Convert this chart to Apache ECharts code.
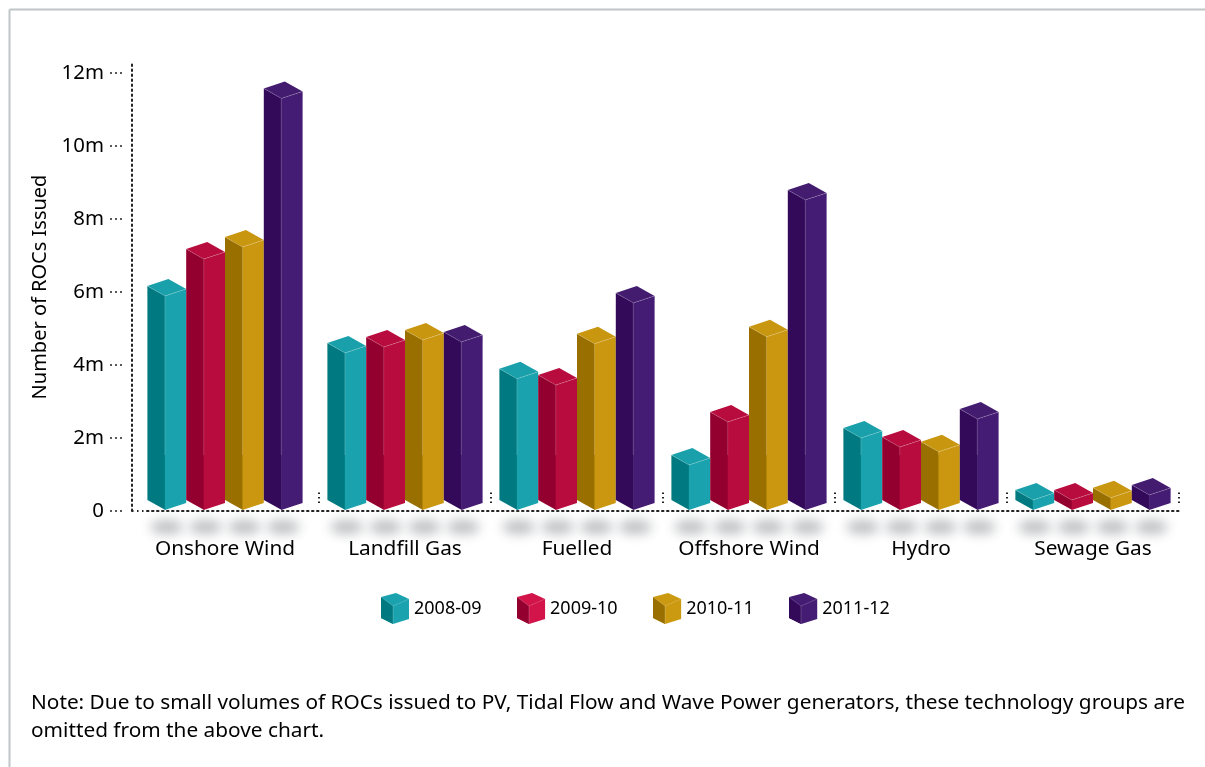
<!DOCTYPE html>
<html>
<head>
<meta charset="utf-8">
<title>ROCs issued by technology</title>
<style>html,body{margin:0;padding:0;background:#fff;overflow:hidden}#chart{width:1205px;height:767px}</style>
<script src="https://cdn.jsdelivr.net/npm/echarts@6/dist/echarts.min.js"></script>
</head>
<body>
<div id="chart"></div>
<script>
// ROCs issued per technology and year, in millions
const categories = ['Onshore Wind', 'Landfill Gas', 'Fuelled', 'Offshore Wind', 'Hydro', 'Sewage Gas'];
const years = ['2008-09', '2009-10', '2010-11', '2011-12'];
const values2008 = [5.89, 4.33, 3.62, 1.26, 2.0, 0.3];
const values2009 = [6.9, 4.49, 3.45, 2.44, 1.75, 0.3];
const values2010 = [7.23, 4.68, 4.58, 4.77, 1.62, 0.36];
const values2011 = [11.3, 4.63, 5.7, 8.52, 2.52, 0.44];
const yTicks = [0, 2, 4, 6, 8, 10, 12];
const noteText = 'Note: Due to small volumes of ROCs issued to PV, Tidal Flow and Wave Power generators, these technology groups are\nomitted from the above chart.';

const seriesValues = [values2008, values2009, values2010, values2011];

// Face colours of each 3D column: side in shadow, lit side, lid, legend cube
const faces = [
  { left: '#007a80', right: '#1aa3ae', top: '#1aa0aa', cube: '#1aa3af' },
  { left: '#93002f', right: '#b80c3e', top: '#b80c3e', cube: '#d2144a' },
  { left: '#997000', right: '#cb9710', top: '#c99610', cube: '#cc9a10' },
  { left: '#330a5a', right: '#451c74', top: '#431c70', cube: '#451c74' }
];

const FONT = '"Noto Sans", "Open Sans", sans-serif';
const INK = '#000';
const DOTS = '#222';
const DOT_DASH = [1.5, 3.5];
const EDGE = 'rgba(255,255,255,0.18)';

// Column proportions
const BAR_W = 38.8, FRONT_X = 17.5, BACK_X = 21, LEFT_RISE = 10, RIGHT_RISE = 7, BACK_RISE = 17;
// The first category sits in a wider band than the others
const bandShift = [-8, 0, 0, 0, 0, 0];
// The soft floor shadow is painted from a copy parked off to the side, so only its blur shows
const SHADOW_PARK = 3000;

function renderColumn(seriesIndex) {
  return function (params, api) {
    const cat = api.value(0);
    const top = api.coord([cat, api.value(1)]);
    const zero = api.coord([cat, 0]);
    const xL = top[0] + bandShift[cat] + (seriesIndex - 2) * BAR_W;
    const xF = xL + FRONT_X, xR = xL + BAR_W, xB = xL + BACK_X;
    const yF = top[1], yBase = zero[1] - 1;
    const f = faces[seriesIndex];
    const poly = (pts, fill) => ({
      type: 'polygon', shape: { points: pts },
      style: { fill: fill }, silent: true
    });
    const edge = (x1, y1, x2, y2) => ({
      type: 'line', shape: { x1, y1, x2, y2 },
      style: { stroke: EDGE, lineWidth: 1, fill: null }, silent: true
    });
    const edgeEnd = Math.max(yF, yBase - 55);
    return {
      type: 'group',
      children: [
        {
          type: 'ellipse',
          shape: { cx: xL + BAR_W / 2 - SHADOW_PARK, cy: yBase + 17, rx: 16.5, ry: 7 },
          style: { fill: '#000', shadowBlur: 12, shadowColor: '#bcbec0', shadowOffsetX: SHADOW_PARK },
          silent: true
        },
        // The dark side runs slightly under the lit side to keep the shared edge closed
        poly([[xL, yF - LEFT_RISE], [xF + 0.5, yF], [xF + 0.5, yBase], [xL, yBase - LEFT_RISE]], f.left),
        poly([[xF, yF], [xR, yF - RIGHT_RISE], [xR, yBase - RIGHT_RISE], [xF, yBase]], f.right),
        poly([[xL, yF - LEFT_RISE], [xB, yF - BACK_RISE], [xR, yF - RIGHT_RISE], [xF, yF]], f.top),
        edge(xL, yF - LEFT_RISE, xF, yF),
        edge(xF, yF, xR, yF - RIGHT_RISE),
        edge(xF, yF, xF, edgeEnd)
      ]
    };
  };
}

// Shaded side and edges laid over the native legend's cube silhouettes
const LEGEND_X = 381, LEGEND_Y = 593, LEGEND_STEP = 136;
function cubeOverlay(i) {
  const x = LEGEND_X + i * LEGEND_STEP, y = LEGEND_Y;
  return [
    { type: 'polygon', z: 50, shape: { points: [[x, y + 4], [x + 12, y + 13], [x + 12, y + 31], [x, y + 25]] },
      style: { fill: faces[i].left } },
    { type: 'polyline', z: 51, shape: { points: [[x, y + 4], [x + 12, y + 13], [x + 28, y + 6]] },
      style: { stroke: EDGE, fill: null, lineWidth: 1 } },
    { type: 'line', z: 51, shape: { x1: x + 12, y1: y + 13, x2: x + 12, y2: y + 31 },
      style: { stroke: EDGE, lineWidth: 1 } }
  ];
}

const chart = echarts.init(document.getElementById('chart'), null, { renderer: 'canvas' });
chart.setOption({
  animation: false,
  backgroundColor: '#fff',
  textStyle: { fontFamily: FONT, color: INK },
  grid: { left: 147, right: 26, top: 63, bottom: 256, containLabel: false },
  title: {
    text: noteText, left: 26, top: 684,
    textStyle: { fontFamily: FONT, fontSize: 20.8, fontWeight: 'normal', color: INK, lineHeight: 28 }
  },
  legend: {
    left: LEGEND_X, top: LEGEND_Y, padding: 0, itemWidth: 28, itemHeight: 31, itemGap: 35.5,
    selectedMode: false,
    icon: 'path://M0,4 L15,0 L28,6 L28,26 L12,31 L0,25 Z',
    textStyle: { fontFamily: FONT, fontSize: 18, color: INK },
    data: years.map((y, i) => ({ name: y, itemStyle: { color: faces[i].cube } }))
  },
  xAxis: {
    type: 'category',
    data: categories.map((c, i) => (bandShift[i]
      ? { value: c, textStyle: { padding: [0, -2 * bandShift[i], 0, 0] } }
      : c)),
    axisLine: { onZero: false, lineStyle: { color: DOTS, width: 2, type: DOT_DASH } },
    axisTick: {
      show: true, inside: true, length: 19,
      interval: (i) => i > 0,
      lineStyle: { color: DOTS, width: 2, type: [0, 8, 1.5, 3, 1.5, 3, 1.5, 20] }
    },
    axisLabel: { margin: 28, fontFamily: FONT, fontSize: 20.8, color: INK, interval: 0 }
  },
  yAxis: {
    type: 'value', min: 0, max: 12.27, offset: 15,
    name: 'Number of ROCs Issued', nameLocation: 'middle', nameGap: 80,
    nameTextStyle: { fontFamily: FONT, fontSize: 20, color: INK },
    splitLine: { show: false },
    axisLine: { show: true, lineStyle: { color: DOTS, width: 2, type: DOT_DASH } },
    axisTick: {
      show: true, length: 22, customValues: yTicks,
      lineStyle: { color: DOTS, width: 1.5, type: [0, 10, 2, 3, 2, 3, 2, 20] }
    },
    axisLabel: {
      margin: 28, fontFamily: FONT, fontSize: 20.4, color: INK, customValues: yTicks,
      formatter: (v) => (v === 0 ? '0' : v + 'm')
    }
  },
  graphic: [
    // Panel rule along the top and left
    { type: 'line', shape: { x1: 9.5, y1: 9.5, x2: 1205, y2: 9.5 }, style: { stroke: '#c0c6c8', lineWidth: 2 } },
    { type: 'line', shape: { x1: 9.5, y1: 9.5, x2: 9.5, y2: 767 }, style: { stroke: '#c0c6c8', lineWidth: 2 } },
    // Baseline run between the value axis and the first band
    { type: 'line', shape: { x1: 132, y1: 511, x2: 147, y2: 511 }, style: { stroke: DOTS, lineWidth: 2, lineDash: DOT_DASH } },
    ...years.flatMap((y, i) => cubeOverlay(i))
  ],
  series: seriesValues.map((vals, si) => ({
    type: 'custom',
    name: years[si],
    coordinateSystem: 'cartesian2d',
    renderItem: renderColumn(si),
    encode: { x: 0, y: 1 },
    data: vals.map((v, i) => [i, v]),
    silent: true
  }))
});
</script>
</body>
</html>
